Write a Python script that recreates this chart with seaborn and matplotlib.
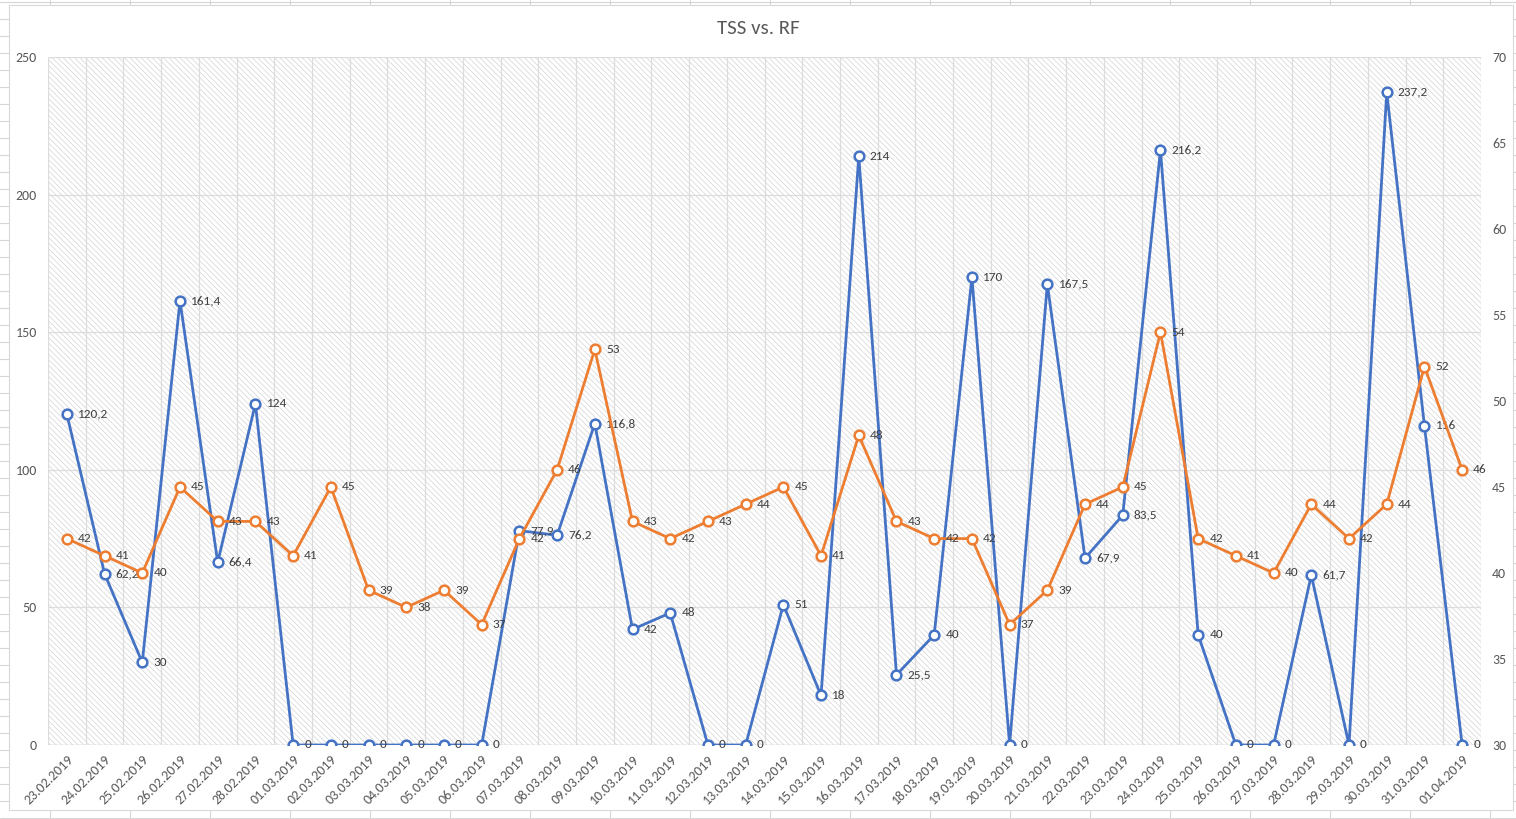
import matplotlib.pyplot as plt
import matplotlib.patches as mpatches
import matplotlib.lines as mlines
import seaborn as sns
import pandas as pd
import numpy as np

dates = ["23.02.2019", "24.02.2019", "25.02.2019", "26.02.2019", "27.02.2019", "28.02.2019",
         "01.03.2019", "02.03.2019", "03.03.2019", "04.03.2019", "05.03.2019", "06.03.2019",
         "07.03.2019", "08.03.2019", "09.03.2019", "10.03.2019", "11.03.2019", "12.03.2019",
         "13.03.2019", "14.03.2019", "15.03.2019", "16.03.2019", "17.03.2019", "18.03.2019",
         "19.03.2019", "20.03.2019", "21.03.2019", "22.03.2019", "23.03.2019", "24.03.2019",
         "25.03.2019", "26.03.2019", "27.03.2019", "28.03.2019", "29.03.2019", "30.03.2019",
         "31.03.2019", "01.04.2019"]
tss = [120.2, 62.2, 30, 161.4, 66.4, 124, 0, 0, 0, 0, 0, 0,
       77.9, 76.2, 116.8, 42, 48, 0, 0, 51, 18, 214, 25.5, 40,
       170, 0, 167.5, 67.9, 83.5, 216.2, 40, 0, 0, 61.7, 0, 237.2,
       116, 0]
rf = [42, 41, 40, 45, 43, 43, 41, 45, 39, 38, 39, 37,
      42, 46, 53, 43, 42, 43, 44, 45, 41, 48, 43, 42,
      42, 37, 39, 44, 45, 54, 42, 41, 40, 44, 42, 44,
      52, 46]

blue = "#4472C4"
orange = "#ED7D31"
text_col = "#595959"
label_col = "#404040"

df = pd.DataFrame({"date": dates, "TSS": tss, "RF": rf})
df["pos"] = np.arange(len(df))

sns.set_style("white")
plt.rcParams["font.family"] = ["Carlito", "Liberation Sans", "DejaVu Sans"]
plt.rcParams["hatch.linewidth"] = 0.45

fig = plt.figure(figsize=(15.16, 8.19), dpi=100)

# spreadsheet cells around the chart
for x in np.arange(50, 1516, 80):
    fig.add_artist(mlines.Line2D([x / 1516, x / 1516], [0, 1], color="#d6d6d6", lw=0.8, zorder=0))
for y in np.arange(2, 819, 17):
    fig.add_artist(mlines.Line2D([0, 1], [1 - y / 819, 1 - y / 819], color="#d6d6d6", lw=0.8, zorder=0))
fig.add_artist(mpatches.Rectangle((9 / 1516, 1 - 810 / 819), (1513 - 9) / 1516, (810 - 5) / 819,
                                  transform=fig.transFigure, facecolor="white",
                                  edgecolor="#d9d9d9", lw=0.8, zorder=0.5))

ax = fig.add_axes([48 / 1516, 74 / 819, (1481 - 48) / 1516, (745 - 57) / 819])
ax.set_zorder(1)
ax.patch.set_facecolor("white")
ax.add_patch(mpatches.Rectangle((0, 0), 1, 1, transform=ax.transAxes, facecolor="white",
                                edgecolor="#cfcfcf", hatch="\\\\\\\\\\\\", lw=0, zorder=0))

sns.lineplot(data=df, x="pos", y="TSS", ax=ax, color=blue, lw=2, marker="o", markersize=7,
             markerfacecolor="white", markeredgecolor=blue, markeredgewidth=1.8, zorder=3)
ax.set_xlim(-0.5, len(df) - 0.5)
ax.set_ylim(0, 250)
ax.set_yticks(np.arange(0, 251, 50))
ax.set_xticks(df["pos"])
ax.set_xticklabels(df["date"], rotation=45, ha="right", rotation_mode="anchor",
                   fontsize=10, color=text_col)
ax.set_xticks(np.arange(-0.5, len(df), 1), minor=True)
ax.tick_params(axis="both", length=0, pad=8, labelsize=10, labelcolor=text_col)
ax.tick_params(axis="x", which="major", pad=6)
ax.grid(axis="y", which="major", color="#dcdcdc", lw=0.9)
ax.grid(axis="x", which="minor", color="#dcdcdc", lw=0.9)
ax.set_axisbelow(True)
ax.set_xlabel("")
ax.set_ylabel("")
for s in ax.spines.values():
    s.set_visible(False)
ax.axhline(0, color="#d0d0d0", lw=1, zorder=2)

for p, v in zip(df["pos"], df["TSS"]):
    ax.annotate(f"{v:g}".replace(".", ","), (p, v), xytext=(8, 0), textcoords="offset points",
                va="center", ha="left", fontsize=9.5, color=label_col, zorder=5)

ax2 = ax.twinx()
sns.lineplot(data=df, x="pos", y="RF", ax=ax2, color=orange, lw=2, marker="o", markersize=7,
             markerfacecolor="white", markeredgecolor=orange, markeredgewidth=1.8, zorder=3)
ax2.set_ylim(30, 70)
ax2.set_yticks(np.arange(30, 71, 5))
ax2.tick_params(axis="y", length=0, pad=8, labelsize=10, labelcolor=text_col)
ax2.set_ylabel("")
for s in ax2.spines.values():
    s.set_visible(False)
ax2.grid(False)

for p, v in zip(df["pos"], df["RF"]):
    ax2.annotate(f"{v:g}", (p, v), xytext=(8, 0), textcoords="offset points",
                 va="center", ha="left", fontsize=9.5, color=label_col, zorder=5)

fig.text(0.5, 1 - 28 / 819, "TSS vs. RF", ha="center", va="center", fontsize=15, color=text_col)

fig.savefig("out.png", dpi=100)
